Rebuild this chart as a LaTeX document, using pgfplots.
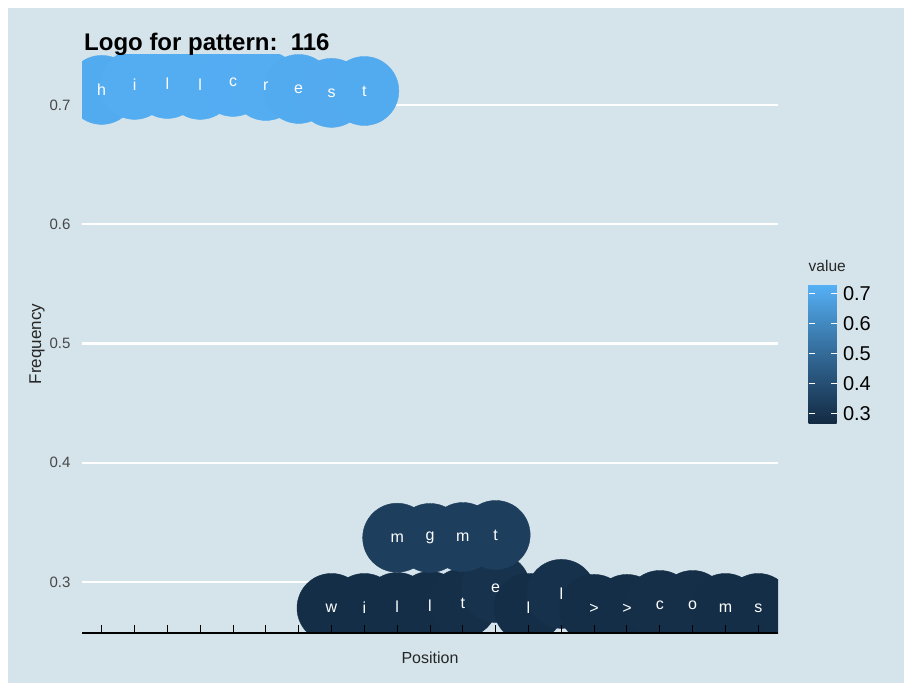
\documentclass[border=0pt]{standalone}
\usepackage{fontspec}
\setmainfont{Liberation Sans}
\usepackage{pgfplots}
\usepackage{pgfplotstable}
\pgfplotsset{compat=1.18}
\usetikzlibrary{calc}

\definecolor{panelbg}{HTML}{D5E4EB}
\definecolor{ticktxt}{HTML}{474747}
\newcommand\fs[1]{\fontsize{#1}{#1}\selectfont}

\pgfplotsset{colormap={ggblue}{rgb255=(19,43,67) rgb255=(35,74,109) rgb255=(51,106,152) rgb255=(68,141,198) rgb255=(86,177,247)}}

% position, frequency, letter (bottom row, then mgmt, then hillcrest)
\pgfplotstableread{
x y lab
8 0.2782 w
9 0.2782 i
10 0.2790 l
11 0.2799 l
12 0.2824 t
13 0.2950 e
14 0.2782 l
15 0.2900 l
16 0.2774 >
17 0.2774 >
18 0.2807 c
19 0.2807 o
20 0.2782 m
21 0.2782 s
10 0.3371 m
11 0.3369 g
12 0.3377 m
13 0.3394 t
1 0.7126 h
2 0.7168 i
3 0.7176 l
4 0.7168 l
5 0.7193 c
6 0.7159 r
7 0.7134 e
8 0.7101 s
9 0.7117 t
}\logo

\begin{document}
\begin{tikzpicture}
\fill[white] (0,0) rectangle (904bp,-683bp);
\fill[panelbg] (8bp,-8bp) rectangle (904bp,-683bp);

\begin{axis}[
  at={(82bp,-633bp)}, anchor=south west,
  scale only axis, width=696bp, height=579bp,
  xmin=0.4, xmax=21.6, ymin=0.2572, ymax=0.7427,
  clip marker paths=true,
  axis line style={draw=none},
  xtick=\empty,
  ytick={0.3,0.4,0.5,0.6,0.7},
  y tick style={draw=none},
  yticklabel style={font=\fs{15bp}, text=ticktxt, xshift=-8bp},
  /pgf/number format/assume math mode=true,
  ymajorgrids, grid style={white, line width=2.2bp},
  ylabel={Frequency},
  ylabel style={at={(axis description cs:-0.0647,0.499)}, anchor=center, font=\fs{17bp}, text=black!85},
  xlabel={Position},
  xlabel style={at={(axis description cs:0.5,0)}, anchor=base, yshift=-30bp, font=\fs{16bp}, text=black!85},
  colormap name=ggblue,
  point meta min=0.267, point meta max=0.731,
  colorbar/width=28bp,
  colorbar,
  colorbar style={
    at={($(parent axis.south east)+(22bp,210bp)$)}, anchor=south west,
    scale only axis, width=28bp, height=139bp,
    axis line style={draw=none},
    ytick={0.3,0.4,0.5,0.6,0.7},
    tick align=inside, major tick length=6bp,
    ytick style={white, line width=0.8bp},
    ytick pos=both,
    yticklabel pos=right,
    yticklabel style={font=\fs{20bp}, text=black, xshift=3bp},
    /pgf/number format/assume math mode=true,
    title={value},
    title style={at={(0,1)}, anchor=south west, inner sep=0pt, yshift=6bp, font=\fs{15.5bp}, text=black!85},
  },
]
\addplot[scatter, only marks, mark=*, mark size=34.5bp,
  scatter/use mapped color={draw=mapped color, fill=mapped color},
  point meta=explicit] table[x=x, y=y, meta=y] {\logo};
\addplot[only marks, mark=*, mark size=0pt, mark options={draw=none, fill=none},
  point meta=explicit symbolic, nodes near coords,
  every node near coord/.append style={anchor=center, text=white, font=\fs{16bp}}]
  table[x=x, y=y, meta=lab] {\logo};
\end{axis}

\begin{axis}[
  at={(82bp,-633bp)}, anchor=south west,
  scale only axis, width=696bp, height=579bp,
  xmin=0.4, xmax=21.6, ymin=0.2572, ymax=0.7427,
  axis line style={draw=none},
  xtick={1,...,21}, xticklabels={}, xtick pos=left,
  ytick=\empty,
  tick align=inside, major tick length=8bp,
  x tick style={black, line width=1bp},
]
\draw[black, line width=1.2bp] (rel axis cs:0,0) -- (rel axis cs:1,0);
\end{axis}

\node[anchor=base west, inner sep=0pt, font=\bfseries\fs{24bp}] at (84bp,-50bp) {Logo for pattern:~~116};

\pgfresetboundingbox
\path[use as bounding box] (0,0) rectangle (904bp,-683bp);
\end{tikzpicture}
\end{document}
